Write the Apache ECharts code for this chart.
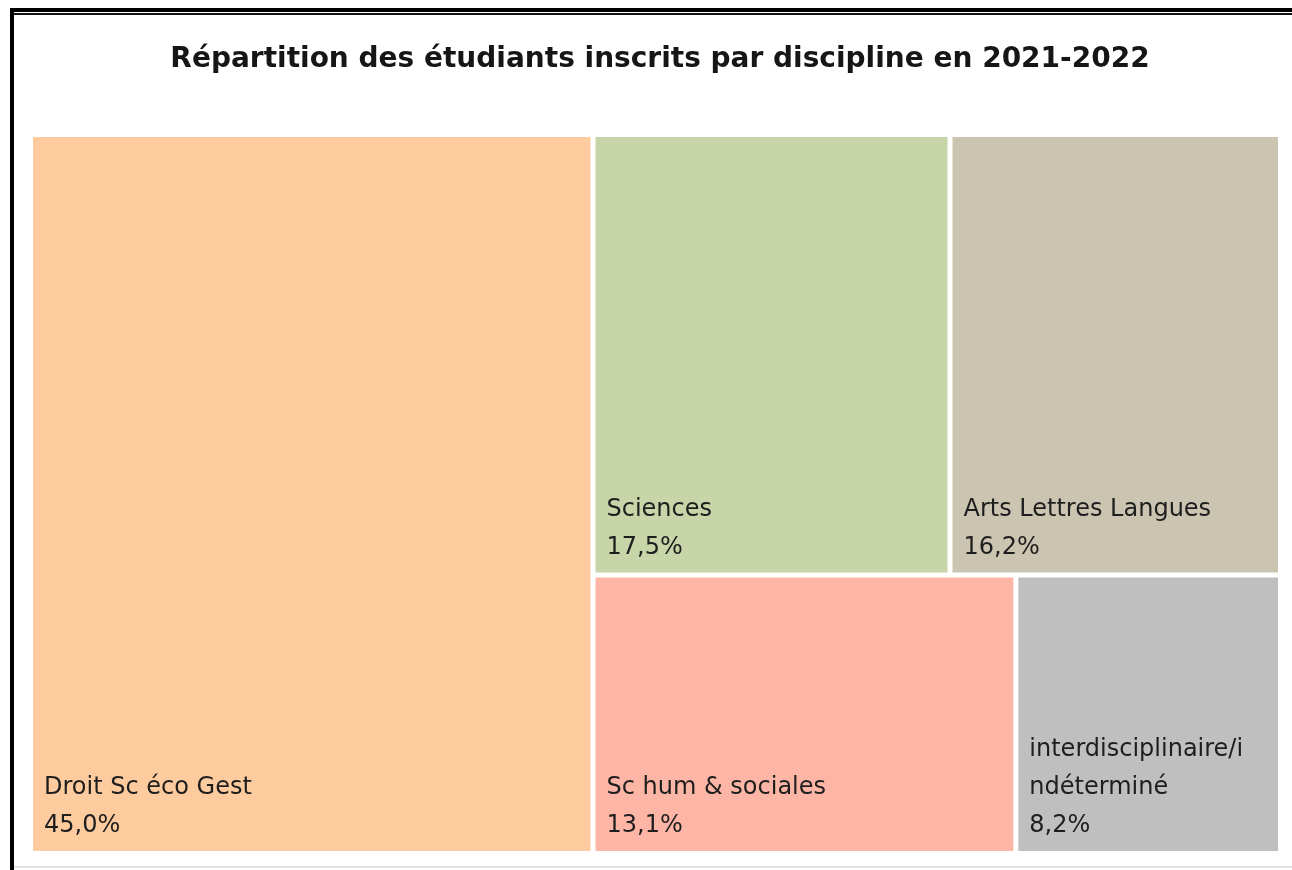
<!DOCTYPE html>
<html>
<head>
<meta charset="utf-8">
<script src="https://cdn.jsdelivr.net/npm/echarts@6/dist/echarts.min.js"></script>
<style>
html,body{margin:0;padding:0;background:#fff;}
#chart{width:1292px;height:870px;}
</style>
</head>
<body>
<div id="chart"></div>
<script>
const categories = ['Droit Sc éco Gest', 'Sciences', 'Arts Lettres Langues', 'Sc hum & sociales', 'interdisciplinaire/indéterminé'];
const values = [45.0, 17.5, 16.2, 13.1, 8.2];
const colors = ['#FDCB9E', '#C7D5A8', '#CAC4B0', '#FDB5A5', '#BFBFBF'];

const chart = echarts.init(document.getElementById('chart'));
const fmt = v => v.toFixed(1).replace('.', ',') + '%';

chart.setOption({
  backgroundColor: '#fff',
  title: {
    text: 'Répartition des étudiants inscrits par discipline en 2021-2022',
    left: 655,
    textAlign: 'center',
    top: 41,
    textStyle: { fontFamily: 'DejaVu Sans', fontWeight: 'bold', fontSize: 28, color: '#161616' }
  },
  graphic: [
    { type: 'rect', shape: { x: 10, y: 8, width: 1282, height: 4 }, style: { fill: '#000' } },
    { type: 'rect', shape: { x: 10, y: 13, width: 1282, height: 2 }, style: { fill: '#111' } },
    { type: 'rect', shape: { x: 10, y: 8, width: 4, height: 862 }, style: { fill: '#000' } },
    { type: 'rect', shape: { x: 14, y: 866, width: 1278, height: 2 }, style: { fill: '#e2e2e2' } }
  ],
  series: [{
    type: 'treemap',
    left: 33,
    top: 137,
    width: 1245,
    height: 714,
    roam: false,
    nodeClick: false,
    breadcrumb: { show: false },
    sort: 'desc',
    itemStyle: { borderWidth: 0, gapWidth: 5, borderColor: '#fff' },
    levels: [{ itemStyle: { borderWidth: 0, gapWidth: 5, borderColor: '#fff' } }],
    label: {
      show: true,
      position: 'insideBottomLeft',
      distance: 0,
      padding: [0, 28, 6, 11],
      fontFamily: 'DejaVu Sans',
      fontSize: 24,
      lineHeight: 38,
      color: '#1e1e1e',
      overflow: 'breakAll',
      formatter: p => p.name + '\n' + fmt(p.value)
    },
    data: categories.map((c, i) => ({ name: c, value: values[i], itemStyle: { color: colors[i] } }))
  }]
});
</script>
</body>
</html>
